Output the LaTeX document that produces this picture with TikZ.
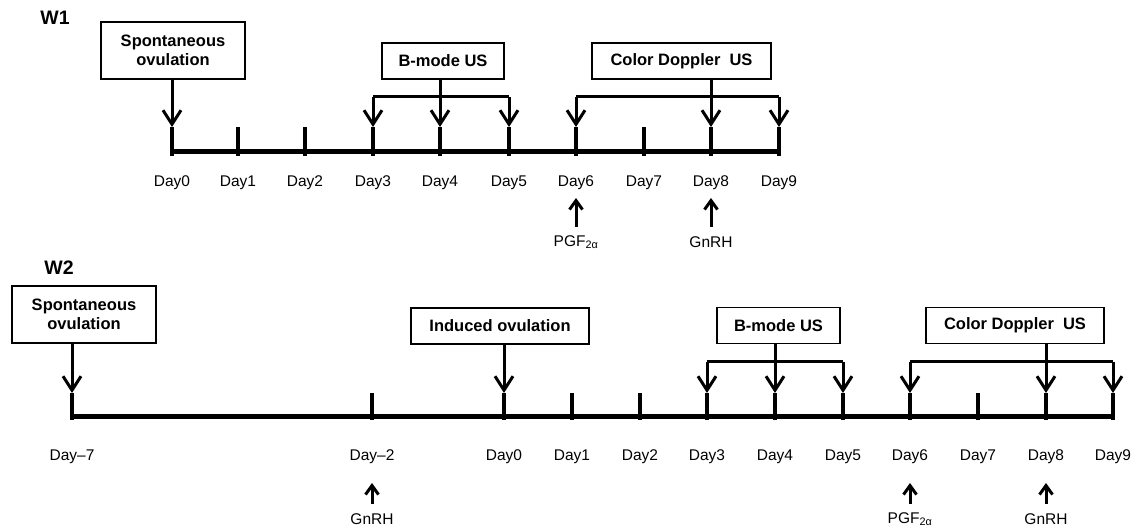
\documentclass[tikz,border=0pt]{standalone}
\usepackage{fontspec}
\setmainfont{Liberation Sans}
\usetikzlibrary{arrows.meta}
\begin{document}
\begin{tikzpicture}[x=1pt,y=-1pt,
  box/.style={draw, line width=1.2pt, inner sep=0pt, align=center,
    font=\bfseries\fontsize{16.5}{19}\selectfont},
  axisline/.style={line width=5pt},
  tickline/.style={line width=4pt},
  downarrow/.style={line width=3pt, -{Straight Barb[length=14pt,width=18pt]}},
  bracket/.style={line width=3pt},
  uparrow/.style={line width=3pt, -{Straight Barb[length=9pt,width=13pt]}},
  lab/.style={font=\fontsize{15.5}{18}\selectfont, inner sep=0pt},
  title/.style={font=\bfseries\fontsize{19.5}{22}\selectfont, inner sep=0pt},
]
\useasboundingbox (0,0) rectangle (1141,529);

% ---------------- W1 ----------------
\node[title] (w1) at (55,18) {W1};
\draw[axisline] (172,152) -- (779,152);
\foreach \n/\x in {0/172,1/238,2/305,3/373,4/440,5/509,6/576,7/644,8/711,9/779}{
  \coordinate (a\n) at (\x,127);
  \draw[tickline] (a\n) -- (\x,156);
  \node[lab] (la\n) at (\x,183) {Day\n};
}
\node[box, minimum width=144pt, minimum height=57pt] (s1) at (173,50.5) {Spontaneous\\ovulation};
\node[box, minimum width=122pt, minimum height=36pt] (b1) at (443,61) {B-mode US};
\node[box, minimum width=179pt, minimum height=36pt] (c1) at (681.5,61) {Color Doppler\hspace{0.55em}US};

\draw[downarrow] (s1.south -| a0) -- (a0);
% B-mode bracket
\coordinate (b1l) at (373,97); \coordinate (b1r) at (509,97);
\draw[bracket] (b1l) -- (b1r);
\draw[downarrow] (b1.south -| a4) -- (a4);
\draw[downarrow] (b1l) -- (a3);
\draw[downarrow] (b1r) -- (a5);
% Doppler bracket
\coordinate (c1l) at (576,97); \coordinate (c1r) at (779,97);
\draw[bracket] (c1l) -- (c1r);
\draw[downarrow] (c1.south -| a8) -- (a8);
\draw[downarrow] (c1l) -- (a6);
\draw[downarrow] (c1r) -- (a9);
% treatments
\node[lab] (p1) at (576,242) {PGF\textsubscript{2α}};
\node[lab] (g1) at (711,242) {GnRH};
\coordinate (p1t) at (576,198); \coordinate (g1t) at (711,198);
\draw[uparrow] (576,227) -- (p1t);
\draw[uparrow] (711,227) -- (g1t);

% ---------------- W2 ----------------
\node[title] (w2) at (59,268) {W2};
\draw[axisline] (72,416) -- (1113,416);
\foreach \n/\x in {0/504,1/572,2/640,3/707,4/775,5/843,6/910,7/978,8/1046,9/1113}{
  \coordinate (b\n) at (\x,393);
  \draw[tickline] (b\n) -- (\x,420);
  \node[lab] (lb\n) at (\x,457) {Day\n};
}
\coordinate (bm7) at (72,393);
\draw[tickline] (bm7) -- (72,420);
\node[lab] (lbm7) at (72,457) {Day–7};
\coordinate (bm2) at (372,393);
\draw[tickline] (bm2) -- (372,420);
\node[lab] (lbm2) at (372,457) {Day–2};

\node[box, minimum width=144pt, minimum height=57pt] (s2) at (84,314.5) {Spontaneous\\ovulation};
\node[box, minimum width=178pt, minimum height=36pt] (i2) at (500,326) {Induced ovulation};
\node[box, minimum width=123pt, minimum height=36pt] (b2) at (778.5,325.5) {B-mode US};
\node[box, minimum width=178pt, minimum height=36pt] (c2) at (1015,325.5) {Color Doppler\hspace{0.55em}US};

\draw[downarrow] (s2.south -| bm7) -- (bm7);
\draw[downarrow] (i2.south -| b0) -- (b0);
\coordinate (b2l) at (707,362); \coordinate (b2r) at (843,362);
\draw[bracket] (b2l) -- (b2r);
\draw[downarrow] (b2.south -| b4) -- (b4);
\draw[downarrow] (b2l) -- (b3);
\draw[downarrow] (b2r) -- (b5);
\coordinate (c2l) at (910,362); \coordinate (c2r) at (1113,362);
\draw[bracket] (c2l) -- (c2r);
\draw[downarrow] (c2.south -| b8) -- (b8);
\draw[downarrow] (c2l) -- (b6);
\draw[downarrow] (c2r) -- (b9);

\node[lab] (g2a) at (372,519) {GnRH};
\node[lab] (p2) at (910,519) {PGF\textsubscript{2α}};
\node[lab] (g2b) at (1046,519) {GnRH};
\coordinate (g2at) at (372,483); \coordinate (p2t) at (910,483); \coordinate (g2bt) at (1046,483);
\draw[uparrow] (372,504) -- (g2at);
\draw[uparrow] (910,504) -- (p2t);
\draw[uparrow] (1046,504) -- (g2bt);
\end{tikzpicture}
\end{document}
